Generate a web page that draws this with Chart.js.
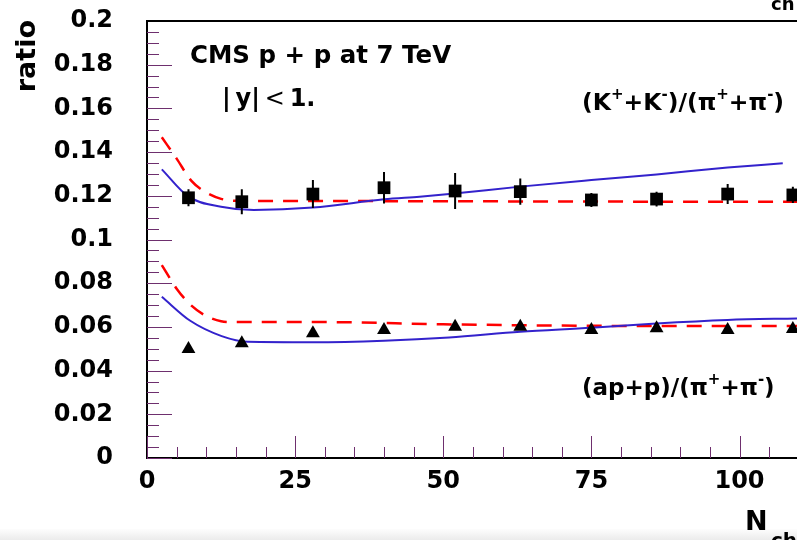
<!DOCTYPE html>
<html>
<head>
<meta charset="utf-8">
<script src="https://cdn.jsdelivr.net/npm/chart.js@4.4.0/dist/chart.umd.min.js"></script>
<style>
  html, body { margin: 0; padding: 0; background: #fff; }
  canvas { display: block; }
</style>
</head>
<body>
<canvas id="ratioChart" width="797" height="540"></canvas>
<script>
// measured points (CMS p+p 7 TeV)
const measNch = [7, 16, 28, 40, 52, 63, 75, 86, 98, 109];
const kaonPion = [0.1191, 0.1173, 0.1208, 0.1237, 0.1222, 0.1219, 0.1181, 0.1185, 0.1208, 0.1204];
const kaonPionErr = [0.0039, 0.0057, 0.0064, 0.0072, 0.0082, 0.006, 0.0032, 0.0034, 0.0046, 0.0037];
const protonPion = [0.0499, 0.0525, 0.0571, 0.0586, 0.0601, 0.0601, 0.0586, 0.0594, 0.0586, 0.059];

// model curves
const kSolidN = [2.5, 7, 12.5, 18, 28, 40, 46, 51, 63, 75, 86, 98, 107.3];
const kSolid = [0.1321, 0.1196, 0.115, 0.1135, 0.1146, 0.1184, 0.1196, 0.1208, 0.1242, 0.1272, 0.1298, 0.1329, 0.1349];
const kDashN = [2.5, 5, 7.5, 10, 12.5, 15, 30, 50, 70, 90, 109.7];
const kDash = [0.1468, 0.137, 0.1268, 0.1215, 0.1186, 0.1177, 0.1176, 0.1175, 0.1174, 0.1173, 0.1173];
const pSolidN = [2.5, 7.3, 12.6, 17, 28, 40, 51, 63, 75, 86, 98, 109.7];
const pSolid = [0.0738, 0.0628, 0.0558, 0.0532, 0.053, 0.0537, 0.0552, 0.0578, 0.0596, 0.0616, 0.0632, 0.0639];
const pDashN = [2.5, 5, 7.5, 10, 12.5, 15, 30, 50, 70, 90, 109.7];
const pDash = [0.0883, 0.0775, 0.0697, 0.065, 0.0626, 0.0622, 0.0622, 0.0612, 0.0606, 0.0604, 0.0604];

const xTicks = [0, 25, 50, 75, 100];
const yTicks = [0, 0.02, 0.04, 0.06, 0.08, 0.1, 0.12, 0.14, 0.16, 0.18, 0.2];

const FONT = '"DejaVu Sans", sans-serif';

function toPoints(xs, ys) {
    return xs.map((x, i) => ({ x: x, y: ys[i] }));
}

function errorSegments(xs, ys, errs) {
    const pts = [];
    xs.forEach((x, i) => {
        pts.push({ x: x, y: ys[i] - errs[i] });
        pts.push({ x: x, y: ys[i] + errs[i] });
        pts.push({ x: x, y: null });
    });
    return pts;
}

function drawRich(ctx, x, y, size, parts) {
    parts.forEach(p => {
        const s = p.sup ? 15 : size;
        ctx.font = (p.thin ? 'normal ' : 'bold ') + s + 'px ' + FONT;
        ctx.fillText(p.t, x, p.sup ? y - 11 : y);
        x += ctx.measureText(p.t).width;
    });
}

const framePlugin = {
    id: 'frame',
    beforeDraw(chart) {
        const ctx = chart.ctx;
        ctx.save();
        ctx.fillStyle = '#fff';
        ctx.fillRect(0, 0, chart.width, chart.height);
        const g = ctx.createLinearGradient(0, 529, 0, 540);
        g.addColorStop(0, '#fdfdfd');
        g.addColorStop(1, '#ebebeb');
        ctx.fillStyle = g;
        ctx.fillRect(0, 529, chart.width, 11);
        ctx.restore();
    },
    afterDraw(chart) {
        const ctx = chart.ctx;
        const a = chart.chartArea;
        const xs = chart.scales.x;
        const ys = chart.scales.y;
        ctx.save();

        // inward ticks
        ctx.strokeStyle = '#6e2f6e';
        ctx.lineWidth = 1;
        for (let i = 0; i <= 40; i++) {
            const py = Math.round(ys.getPixelForValue(i * 0.005)) + 0.5;
            const len = i % 4 === 0 ? 25 : 12;
            ctx.beginPath();
            ctx.moveTo(a.left, py);
            ctx.lineTo(a.left + len, py);
            ctx.stroke();
        }
        for (let i = 0; i <= 22; i++) {
            const px = Math.round(xs.getPixelForValue(i * 5)) + 0.5;
            const len = i % 5 === 0 ? 22 : 11;
            ctx.beginPath();
            ctx.moveTo(px, a.bottom);
            ctx.lineTo(px, a.bottom - len);
            ctx.stroke();
        }

        // top frame line
        ctx.strokeStyle = '#000';
        ctx.lineWidth = 2;
        ctx.beginPath();
        ctx.moveTo(a.left, a.top);
        ctx.lineTo(chart.width, a.top);
        ctx.stroke();

        // texts
        ctx.fillStyle = '#000';
        ctx.textBaseline = 'alphabetic';
        ctx.textAlign = 'left';
        drawRich(ctx, 190, 63, 24.5, [{ t: 'CMS p + p at 7 TeV' }]);
        drawRich(ctx, 222, 106, 24, [
            { t: '|\u2009y|\u2009' }, { t: '<', thin: true }, { t: '\u20091.' }
        ]);
        drawRich(ctx, 582, 110, 23.5, [
            { t: '(K' }, { t: '+', sup: true }, { t: '+K' }, { t: '-', sup: true },
            { t: ')/(\u03C0' }, { t: '+', sup: true }, { t: '+\u03C0' }, { t: '-', sup: true }, { t: ')' }
        ]);
        drawRich(ctx, 582, 395, 23, [
            { t: '(ap+p)/(\u03C0' }, { t: '+', sup: true }, { t: '+\u03C0' }, { t: '-', sup: true }, { t: ')' }
        ]);

        // axis titles
        ctx.font = 'bold 27px ' + FONT;
        ctx.fillText('N', 745, 530);
        ctx.font = 'bold 20px ' + FONT;
        ctx.fillText('ch', 771, 547);
        ctx.font = 'bold 18px ' + FONT;
        ctx.fillText('ch', 771, 10);

        ctx.translate(35, 20);
        ctx.rotate(-Math.PI / 2);
        ctx.textAlign = 'right';
        ctx.font = 'bold 27px ' + FONT;
        ctx.fillText('ratio', 0, 0);
        ctx.restore();
    }
};

const tickFont = { family: FONT, size: 24, weight: 'bold' };

new Chart(document.getElementById('ratioChart'), {
    type: 'scatter',
    data: {
        datasets: [
            {
                data: toPoints(measNch, kaonPion),
                pointStyle: 'rect', pointRadius: 9,
                backgroundColor: '#000', borderColor: '#000', borderWidth: 0
            },
            {
                data: toPoints(measNch, protonPion),
                pointStyle: 'triangle', pointRadius: 8,
                backgroundColor: '#000', borderColor: '#000', borderWidth: 0
            },
            {
                data: errorSegments(measNch, kaonPion, kaonPionErr),
                showLine: true, spanGaps: false, pointRadius: 0,
                borderColor: '#000', borderWidth: 2
            },
            {
                data: toPoints(kSolidN, kSolid),
                showLine: true, pointRadius: 0, cubicInterpolationMode: 'monotone',
                borderColor: '#3322cc', borderWidth: 2
            },
            {
                data: toPoints(kDashN, kDash),
                showLine: true, pointRadius: 0, cubicInterpolationMode: 'monotone',
                borderColor: '#ff0000', borderWidth: 2.5, borderDash: [15, 10]
            },
            {
                data: toPoints(pSolidN, pSolid),
                showLine: true, pointRadius: 0, cubicInterpolationMode: 'monotone',
                borderColor: '#3322cc', borderWidth: 2
            },
            {
                data: toPoints(pDashN, pDash),
                showLine: true, pointRadius: 0, cubicInterpolationMode: 'monotone',
                borderColor: '#ff0000', borderWidth: 2.5, borderDash: [15, 10]
            }
        ]
    },
    options: {
        responsive: false,
        animation: false,
        devicePixelRatio: 1,
        layout: { autoPadding: false, padding: { top: 21, right: 0, bottom: 0, left: 0 } },
        plugins: { legend: { display: false }, tooltip: { enabled: false } },
        scales: {
            x: {
                type: 'linear', min: 0, max: 109.7,
                grid: { display: true, drawOnChartArea: false, drawTicks: false },
                border: { display: true, color: '#000', width: 2 },
                ticks: { font: tickFont, color: '#000', padding: 9, maxRotation: 0, autoSkip: false },
                afterBuildTicks: s => { s.ticks = xTicks.map(v => ({ value: v })); },
                afterFit: s => {
                    s.height = 82;
                    s.paddingLeft = 0;
                    s.paddingRight = 0;
                }
            },
            y: {
                type: 'linear', min: 0, max: 0.2,
                grid: { display: true, drawOnChartArea: false, drawTicks: false },
                border: { display: true, color: '#000', width: 2 },
                ticks: {
                    font: tickFont, color: '#000', padding: 34, autoSkip: false,
                    callback: v => String(Number(v.toFixed(2)))
                },
                afterBuildTicks: s => { s.ticks = yTicks.map(v => ({ value: v })); },
                afterFit: s => {
                    s.width = 147;
                    s.paddingTop = 0;
                    s.paddingBottom = 0;
                }
            }
        }
    },
    plugins: [framePlugin]
});
</script>
</body>
</html>
